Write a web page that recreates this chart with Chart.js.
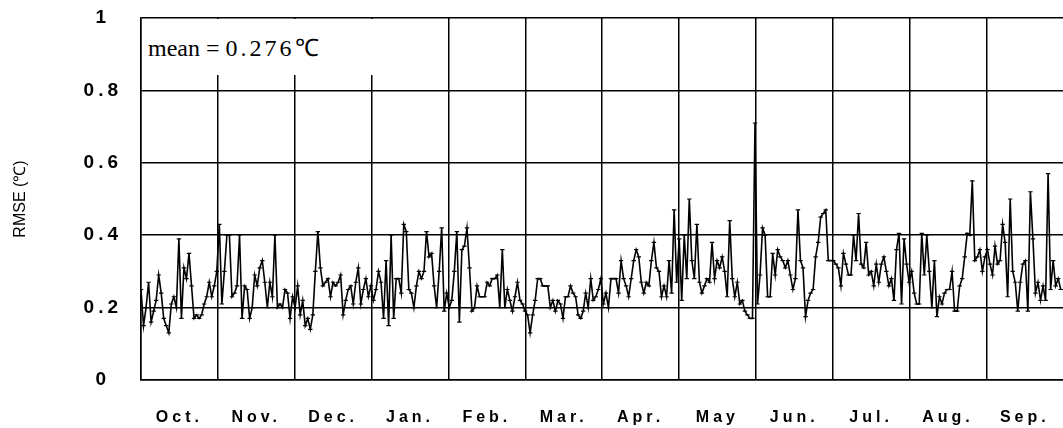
<!DOCTYPE html>
<html>
<head>
<meta charset="utf-8">
<script src="https://cdn.jsdelivr.net/npm/chart.js@4.4.1/dist/chart.umd.min.js"></script>
<style>
  html, body { margin: 0; padding: 0; background: #fff; overflow: hidden; }
  #wrap { position: relative; width: 1070px; height: 428px; }
  #note {
    position: absolute; left: 142px; top: 19px; width: 235px; height: 56px;
    background: #fff; box-sizing: border-box; padding: 17px 0 0 6px; white-space: nowrap;
    font-family: "Liberation Serif", "Times New Roman", serif; font-size: 24px; line-height: 24px; color: #000;
  }
  #note .num { letter-spacing: 3px; }
</style>
</head>
<body>
<div id="wrap">
  <canvas id="rmse-chart" width="1070" height="428"></canvas>
  <div id="note">mean = <span class="num">0.276</span>℃</div>
</div>
<script>
// daily RMSE, one array per month (Oct -> Sep)
const monthLabels = ["Oct.", "Nov.", "Dec.", "Jan.", "Feb.", "Mar.", "Apr.", "May", "Jun.", "Jul.", "Aug.", "Sep."];
const yTicks = [0, 0.2, 0.4, 0.6, 0.8, 1];

const rmseOct = [0.25, 0.15, 0.2, 0.27, 0.16, 0.19, 0.22, 0.29, 0.24, 0.17, 0.15, 0.13, 0.21, 0.23, 0.2, 0.39, 0.17, 0.31, 0.28, 0.35, 0.26, 0.17, 0.18, 0.17, 0.18, 0.21, 0.23, 0.27, 0.23, 0.26, 0.30];
const rmseNov = [0.43, 0.21, 0.30, 0.40, 0.40, 0.23, 0.24, 0.26, 0.40, 0.17, 0.26, 0.25, 0.17, 0.20, 0.29, 0.26, 0.31, 0.33, 0.27, 0.20, 0.27, 0.23, 0.40, 0.20, 0.21, 0.20, 0.25, 0.24, 0.17, 0.23];
const rmseDec = [0.20, 0.26, 0.18, 0.22, 0.15, 0.17, 0.14, 0.18, 0.30, 0.41, 0.31, 0.26, 0.27, 0.28, 0.23, 0.27, 0.26, 0.27, 0.29, 0.18, 0.22, 0.25, 0.26, 0.21, 0.27, 0.31, 0.21, 0.25, 0.28, 0.23, 0.26];
const rmseJan = [0.22, 0.25, 0.30, 0.27, 0.17, 0.33, 0.15, 0.40, 0.17, 0.28, 0.28, 0.24, 0.43, 0.41, 0.25, 0.24, 0.20, 0.26, 0.30, 0.28, 0.30, 0.41, 0.34, 0.35, 0.26, 0.20, 0.30, 0.42, 0.19, 0.24, 0.20];
const rmseFeb = [0.22, 0.30, 0.41, 0.16, 0.36, 0.37, 0.42, 0.31, 0.19, 0.20, 0.26, 0.23, 0.23, 0.23, 0.27, 0.26, 0.28, 0.28, 0.29, 0.20, 0.36, 0.20, 0.25, 0.22, 0.19, 0.23, 0.27, 0.22];
const rmseMar = [0.21, 0.19, 0.18, 0.13, 0.18, 0.22, 0.28, 0.28, 0.26, 0.26, 0.26, 0.20, 0.22, 0.19, 0.22, 0.21, 0.17, 0.23, 0.23, 0.26, 0.24, 0.23, 0.18, 0.17, 0.19, 0.24, 0.20, 0.28, 0.22, 0.23, 0.25];
const rmseApr = [0.28, 0.21, 0.24, 0.20, 0.28, 0.28, 0.28, 0.24, 0.33, 0.28, 0.26, 0.23, 0.28, 0.33, 0.36, 0.34, 0.27, 0.24, 0.27, 0.26, 0.33, 0.38, 0.31, 0.30, 0.23, 0.26, 0.23, 0.33, 0.24, 0.47];
const rmseMay = [0.27, 0.39, 0.22, 0.40, 0.28, 0.50, 0.33, 0.28, 0.43, 0.27, 0.24, 0.26, 0.28, 0.27, 0.38, 0.28, 0.33, 0.31, 0.34, 0.30, 0.23, 0.44, 0.28, 0.23, 0.27, 0.21, 0.22, 0.19, 0.18, 0.17, 0.17];
const rmseJun = [0.71, 0.21, 0.29, 0.42, 0.40, 0.23, 0.23, 0.35, 0.29, 0.36, 0.34, 0.33, 0.31, 0.33, 0.29, 0.25, 0.28, 0.47, 0.33, 0.31, 0.175, 0.22, 0.24, 0.25, 0.34, 0.38, 0.45, 0.46, 0.47, 0.33];
const rmseJul = [0.33, 0.33, 0.32, 0.31, 0.26, 0.35, 0.32, 0.29, 0.29, 0.40, 0.33, 0.46, 0.32, 0.31, 0.38, 0.29, 0.30, 0.26, 0.32, 0.27, 0.32, 0.34, 0.30, 0.26, 0.28, 0.22, 0.36, 0.405, 0.21, 0.39, 0.32];
const rmseAug = [0.27, 0.30, 0.24, 0.21, 0.21, 0.405, 0.29, 0.40, 0.30, 0.20, 0.33, 0.175, 0.23, 0.21, 0.24, 0.25, 0.25, 0.30, 0.19, 0.19, 0.26, 0.28, 0.34, 0.405, 0.40, 0.55, 0.33, 0.34, 0.36, 0.30, 0.34];
const rmseSep = [0.36, 0.32, 0.29, 0.37, 0.32, 0.33, 0.43, 0.38, 0.23, 0.50, 0.30, 0.27, 0.19, 0.27, 0.32, 0.33, 0.19, 0.52, 0.39, 0.24, 0.27, 0.22, 0.26, 0.22, 0.57, 0.25, 0.33, 0.26, 0.28, 0.25];

const months = [rmseOct, rmseNov, rmseDec, rmseJan, rmseFeb, rmseMar, rmseApr, rmseMay, rmseJun, rmseJul, rmseAug, rmseSep];

// day index along x
const points = [];
let day = 0;
months.forEach(m => m.forEach(v => { points.push({ x: day, y: v }); day++; }));

// the grid splits the year into 12 equal parts, month names in the middle of each
const yearDays = day;
const gridStep = yearDays / monthLabels.length;
const gridTicks = monthLabels.map((m, i) => i * gridStep).concat([yearDays]);
const labelTicks = monthLabels.map((m, i) => (i + 0.5) * gridStep);

const fontFamily = '"Liberation Sans", Arial, sans-serif';

// wider spacing for the tick labels (drawn after the datasets, z = 1)
const spacing = {
  id: "spacing",
  beforeDraw(chart) { chart.ctx.letterSpacing = "0px"; },
  afterDatasetsDraw(chart) { chart.ctx.letterSpacing = "4px"; },
  afterDraw(chart) { chart.ctx.letterSpacing = "0px"; }
};

const ctx = document.getElementById("rmse-chart").getContext("2d");
new Chart(ctx, {
  type: "line",
  data: {
    datasets: [{
      data: points,
      borderColor: "#000",
      borderWidth: 1.6,
      pointStyle: "line",
      pointRadius: 2.2,
      pointBorderWidth: 1.2,
      pointBorderColor: "#000",
      tension: 0,
      xAxisID: "x",
      yAxisID: "y"
    }]
  },
  options: {
    responsive: false,
    animation: false,
    layout: { padding: { top: 18, right: 5, left: 0, bottom: 0 } },
    plugins: { legend: { display: false }, tooltip: { enabled: false } },
    scales: {
      x: {
        type: "linear",
        position: "bottom",
        min: 0,
        max: yearDays,
        afterBuildTicks: s => { s.ticks = gridTicks.map(v => ({ value: v })); },
        afterFit: s => { s.height = 0; },
        ticks: { display: false },
        grid: { color: "#000", lineWidth: 1.5, drawTicks: false },
        border: { color: "#000", width: 1.5 }
      },
      xMonth: {
        type: "linear",
        position: "bottom",
        min: 0,
        max: yearDays,
        afterBuildTicks: s => { s.ticks = labelTicks.map(v => ({ value: v })); },
        afterFit: s => { s.height = 48; },
        grid: { display: false, drawTicks: false },
        border: { display: false },
        ticks: {
          z: 1,
          padding: 28,
          autoSkip: false,
          maxRotation: 0,
          color: "#000",
          font: { family: fontFamily, size: 16, weight: "bold" },
          callback: (v, i) => monthLabels[i]
        }
      },
      y: {
        min: 0,
        max: 1,
        afterBuildTicks: s => { s.ticks = yTicks.map(v => ({ value: v })); },
        afterFit: s => { s.width = 141; s.paddingTop = 0; s.paddingBottom = 0; },
        grid: { color: "#000", lineWidth: 1.5, drawTicks: false },
        border: { color: "#000", width: 1.5 },
        ticks: {
          z: 1,
          crossAlign: "center",
          padding: 25,
          color: "#000",
          font: { family: fontFamily, size: 19, weight: "bold" },
          callback: v => String(v)
        },
        title: {
          display: true,
          text: "RMSE (℃)",
          color: "#000",
          font: { family: fontFamily, size: 16 },
          padding: { top: 11, bottom: 0 }
        }
      }
    }
  },
  plugins: [spacing]
});
</script>
</body>
</html>
